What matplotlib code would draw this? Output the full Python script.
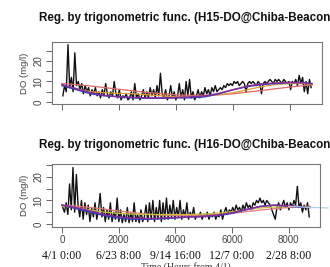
import matplotlib.pyplot as plt
import numpy as np

plt.rcParams['font.family'] = ['Liberation Sans', 'DejaVu Sans']

# DO values, one sample every 60 hours from hour 30
do_h15 = [3, 8, 5, 28, 7, 12, 5, 24, 8, 10, 6, 9, 4, 8, 5, 7, 3, 6, 4, 7,
          3, 5, 2, 6, 3, 9, 4, 2, 5, 3, 10, 4, 2, 6, 1, 3, 2, 4, 1, 2,
          5, 1, 9, 2, 4, 1, 3, 6, 2, 5, 2, 7, 3, 6, 2, 8, 3, 14, 4, 2,
          6, 1, 3, 8, 2, 5, 1, 3, 9, 2, 6, 1, 10, 3, 11, 2, 5, 1, 3, 6,
          2, 5, 3, 7, 4, 6, 3, 7, 5, 8, 5, 6, 7, 6, 8, 7, 9, 8, 9, 8,
          10, 9, 10, 8, 9, 10, 9, 5, 9, 10, 9, 10, 9, 8, 10, 9, 4, 9, 10, 9,
          10, 11, 10, 9, 11, 10, 11, 10, 9, 11, 10, 9, 10, 6, 10, 9, 11, 8, 13, 9,
          12, 5, 10, 4, 11, 7]
do_h16 = [7, 5, 9, 4, 17, 6, 24, 5, 21, 8, 3, 10, 2, 9, 4, 8, 1, 7, 3, 9,
          2, 6, 13, 3, 7, 1, 6, 2, 9, 1, 5, 2, 11, 1, 6, 0.5, 4, 1, 7, 0.5,
          5, 1, 9, 1, 4, 0.5, 6, 1, 3, 8, 1, 9, 2, 10, 1, 7, 2, 10, 1, 9,
          2, 11, 2, 8, 3, 10, 2, 7, 3, 10, 2, 6, 3, 9, 2, 5, 3, 7, 2, 4,
          3, 5, 2, 4, 3, 5, 2, 4, 3, 5, 2, 4, 3, 6, 2, 5, 7, 4, 6, 5,
          7, 5, 8, 6, 7, 5, 8, 6, 9, 7, 8, 6, 9, 8, 10, 9, 11, 9, 10, 8,
          10, 9, 8, 6, 4, 2, 7, 9, 6, 8, 10, 7, 9, 6, 9, 7, 10, 8, 16, 7,
          9, 5, 8, 6, 9, 3]

# fitted curves, read at these hours
fit_hours = [0, 500, 1000, 1500, 2000, 2500, 3000, 3500, 4000, 4500,
             5000, 5500, 6000, 6500, 7000, 7500, 8000, 8500, 8760]
h15_red = [9, 8.5, 7.8, 7, 6.2, 5.4, 4.6, 4, 3.5, 3.2, 3.2, 3.5, 4, 4.8, 5.6, 6.5, 7.3, 8, 8.4]
h15_orange = [8, 6.5, 5, 4.5, 4.2, 4, 3.5, 3, 2.5, 2.5, 3, 3.5, 4.5, 6, 7.5, 8.5, 9, 9, 8.5]
h15_blue = [8, 6, 4, 3, 2.5, 2, 1.8, 1.8, 2, 2, 2.5, 4, 6, 7.5, 8.5, 9, 9.5, 9.5, 9]
h15_purple = [8.5, 6.5, 4.5, 3.2, 2.5, 2.2, 2, 2, 2.2, 2.5, 3, 4.2, 6, 7.8, 8.8, 9.3, 9.5, 9.3, 8.8]

h16_red = [8, 7.6, 7, 6.3, 5.5, 4.8, 4.2, 3.8, 3.6, 3.5, 3.6, 4, 4.5, 5.2, 5.9, 6.5, 7, 7.4, 7.6]
h16_yellow = [7.5, 7, 6, 5, 4.5, 4.2, 4, 4, 4, 4, 4.2, 4.6, 5.2, 6, 6.8, 7.2, 7.4, 7.4, 7.2]
h16_blue = [8, 6.5, 5, 3.5, 2.5, 2, 2, 2.2, 2.5, 3, 3.2, 3.5, 4.5, 6, 7.5, 8, 7.5, 7, 7]
h16_purple = [8, 7, 5.5, 4, 3, 2.5, 2.3, 2.5, 2.8, 3, 3.2, 3.8, 4.8, 6.2, 7.4, 8, 7.8, 7.3, 7]
cyan_hours = [8000, 8500, 8760, 9100, 9400]
h16_cyan = [7.5, 7.2, 7, 6.9, 6.8]

xticks = [0, 2000, 4000, 6000, 8000]
dates = ['4/1 0:00', '6/23 8:00', '9/14 16:00', '12/7 0:00', '2/28 8:00']

fig = plt.figure(figsize=(3.3, 2.67), dpi=100)
ax1 = fig.add_axes([52/330, 1-104/267, 270/330, 62/267])
ax2 = fig.add_axes([52/330, 1-227/267, 268/330, 63/267])

t15 = 30 + 60*np.arange(len(do_h15))
t16 = 30 + 60*np.arange(len(do_h16))

ax1.plot(t15, do_h15, color='#111111', lw=1.0)
ax1.plot(fit_hours, h15_red, color='#e06868', lw=0.9)
ax1.plot(fit_hours, h15_orange, color='#e0a030', lw=0.9)
ax1.plot(fit_hours, h15_blue, color='#3040c0', lw=1.0)
ax1.plot(fit_hours, h15_purple, color='#8a2a9a', lw=1.0)

ax2.plot(t16, do_h16, color='#111111', lw=1.0)
ax2.plot(fit_hours, h16_red, color='#e87878', lw=0.9)
ax2.plot(fit_hours, h16_yellow, color='#c8c040', lw=0.9)
ax2.plot(fit_hours, h16_blue, color='#3040c0', lw=1.0)
ax2.plot(fit_hours, h16_purple, color='#8a2a9a', lw=1.0)
ax2.plot(cyan_hours, h16_cyan, color='#a0d0e0', lw=0.8, clip_on=False)

ax1.set_ylim(-1.0, 29.3)
ax2.set_ylim(-1.3, 25.5)

for ax in (ax1, ax2):
    ax.set_xlim(-350, 9110)
    ax.set_xticks(xticks)
    ax.set_yticks([0, 5, 10, 15, 20, 25])
    ax.set_yticklabels(['0', '', '10', '', '20', ''], rotation=90, va='center')
    ax.tick_params(direction='out', length=4, width=0.7, colors='#666666',
                   labelsize=7, labelcolor='#444444', pad=2)
    for s in ax.spines.values():
        s.set_color('#777777')
        s.set_linewidth(0.8)
    ax.set_ylabel('DO (mg/l)', fontsize=6.8, color='#444444', labelpad=3)

ax1.set_xticklabels([])
ax2.set_xticklabels([str(v) for v in xticks])
for xv, d in zip(xticks, dates):
    ax2.text(xv, -0.46, d, transform=ax2.get_xaxis_transform(), ha='center',
             va='center', fontsize=8.5, family='Liberation Serif', color='#111111')
ax2.text(0.5, -0.64, 'Time (Hours from 4/1)', transform=ax2.transAxes, ha='center',
         va='center', fontsize=7, family='Liberation Serif', color='#333333')

cx = (52 + 322) / 2 / 330
fig.text(cx, 1-18/267, 'Reg. by trigonometric func. (H15-DO@Chiba-Beacon)',
         ha='center', va='center', fontsize=8.4, fontweight='bold', color='#111111')
fig.text(cx, 1-145/267, 'Reg. by trigonometric func. (H16-DO@Chiba-Beacon)',
         ha='center', va='center', fontsize=8.4, fontweight='bold', color='#111111')

fig.savefig('out.png', dpi=100)
